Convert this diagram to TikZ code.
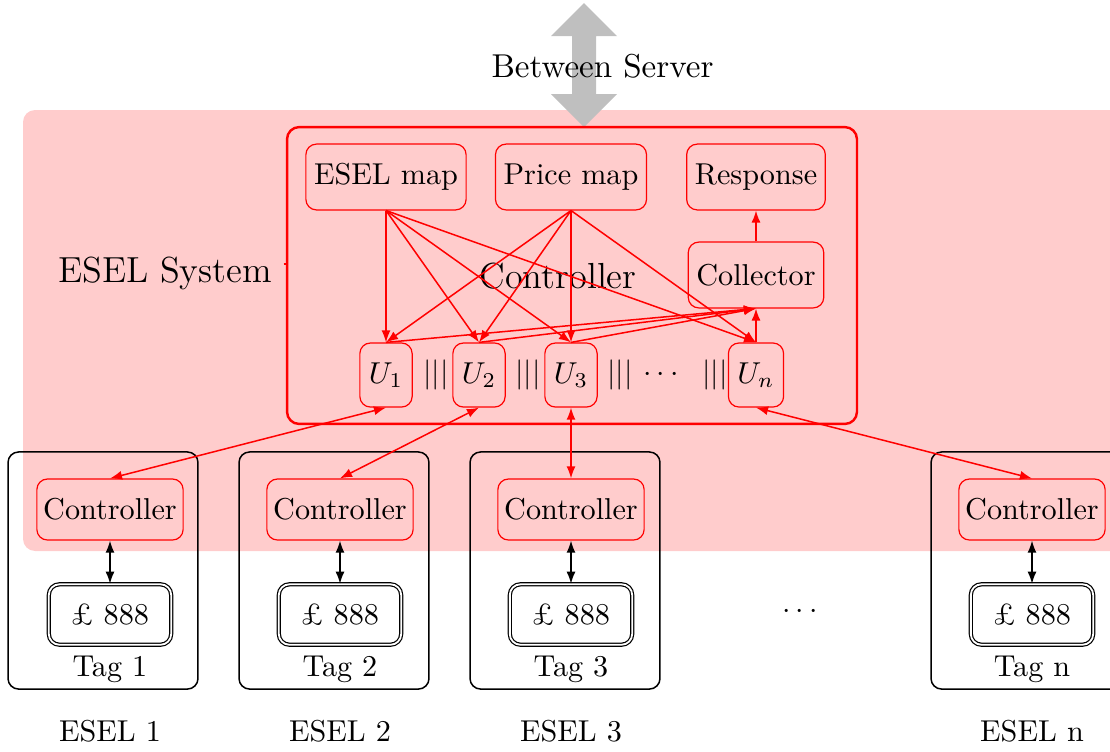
\documentclass[tikz,border=0pt]{standalone}
\usetikzlibrary{arrows.meta}
\begin{document}
\begin{tikzpicture}[x=0.3311pt,y=-0.3311pt,
  mapbox/.style={draw=red, rounded corners=3.5pt, line width=0.4pt, inner xsep=2.7pt, inner ysep=0pt, minimum height=21.8pt},
  ubox/.style={draw=red, rounded corners=3.5pt, line width=0.4pt, inner xsep=3pt, inner ysep=0pt, minimum width=16.9pt, minimum height=21.2pt},
  ctlbox/.style={draw=red, rounded corners=3.5pt, line width=0.4pt, inner xsep=2.1pt, inner ysep=0pt, minimum height=20.2pt},
  pricebox/.style={draw, double, line width=0.4pt, rounded corners=3.5pt, minimum width=40.5pt, minimum height=20pt},
  tagbox/.style={draw, rounded corners=3.5pt, line width=0.5pt, minimum width=62.9pt, minimum height=78.5pt},
  sep/.style={inner sep=0pt},
  tip/.tip={Latex[length=4pt,width=3pt]},
  rarrow/.style={red, line width=0.5pt, -tip},
  rboth/.style={red, line width=0.5pt, tip-tip},
  kboth/.style={black, line width=0.5pt, tip-tip}]
\useasboundingbox (0,0) rectangle (1110,751);

% system background
\fill[red!20, rounded corners=4pt] (23,110) rectangle (1140,551);

% link to the server
\fill[black!25] (584,3) -- (617,36) -- (596,36) -- (596,94) -- (617,94) -- (584,127)
  -- (551,94) -- (572,94) -- (572,36) -- (551,36) -- cycle;
\node (server) at (602.5,66) {\fontsize{10.95}{13}\selectfont Between Server};

\node (system) at (165,273) {\large ESEL System};

% central controller
\node[draw=red, line width=0.8pt, rounded corners=4pt, minimum width=188.7pt, minimum height=98.3pt] (ctrl) at (572,275.5) {};
\node (ctrllabel) at (558,276) {\large Controller};
\draw[red, line width=0.7pt] (283.5,264) -- (287,264);

\node[mapbox] (eselmap) at (386,177) {ESEL map};
\node[mapbox] (pricemap) at (571,177) {Price map};
\node[mapbox] (response) at (756,177) {Response};
\node[mapbox] (collector) at (756,275) {Collector};

\node[ubox] (u1) at (386,375) {$U_1$};
\node[ubox] (u2) at (479,375) {$U_2$};
\node[ubox] (u3) at (571,375) {$U_3$};
\node[ubox] (un) at (756,375) {$U_n$};
\node[sep] (s1) at (436,375) {$|||$};
\node[sep] (s2) at (528,375) {$|||$};
\node[sep] (s3) at (620,375) {$|||$};
\node[sep] (dots) at (661,375) {$\cdots$};
\node[sep] (s4) at (715,375) {$|||$};

\foreach \u in {u1,u2,u3,un} {
  \draw[rarrow] (eselmap.south) -- (\u.north);
  \draw[rarrow] (pricemap.south) -- (\u.north);
  \draw[rarrow] (\u.north) -- (collector.south);
}
\draw[rarrow] (collector.north) -- (response.south);

% electronic shelf labels
\foreach \i/\cx/\bx/\name in {1/110/103/1, 2/340/334/2, 3/571/565/3, n/1032/1026/n} {
  \node[tagbox] (tag\i) at (\bx,570.5) {};
  \node[ctlbox] (ctl\i) at (\cx,509.5) {Controller};
  \node[pricebox] (price\i) at (\cx,614.5) {\pounds\ 888};
  \node (taglabel\i) at (\cx,669) {Tag \name};
  \node (esel\i) at (\cx,731) {ESEL \name};
  \draw[kboth] (ctl\i.south) -- (price\i.north);
}
\node (moredots) at (800,612) {$\cdots$};

\draw[rboth] (u1.south) -- (ctl1.north);
\draw[rboth] (u2.south) -- (ctl2.north);
\draw[rboth] (u3.south) -- (ctl3.north);
\draw[rboth] (un.south) -- (ctln.north);
\end{tikzpicture}
\end{document}
